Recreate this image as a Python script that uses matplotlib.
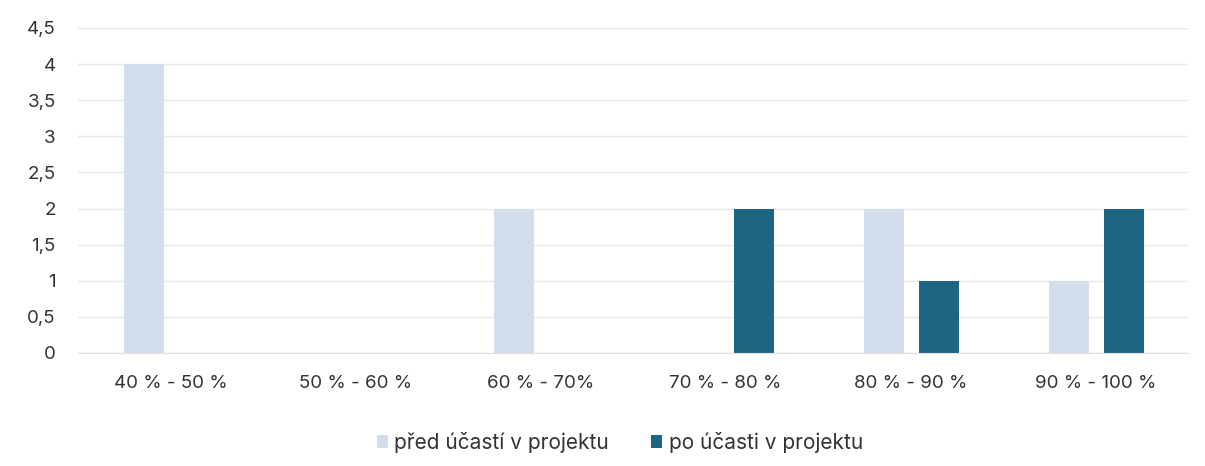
import matplotlib
matplotlib.use("Agg")
from matplotlib import pyplot as plt
import numpy as np

categories = ["40 % - 50 %", "50 % - 60 %", "60 % - 70%", "70 % - 80 %", "80 % - 90 %", "90 % - 100 %"]
pred = [4, 0, 2, 0, 2, 1]
po = [0, 0, 0, 2, 1, 2]
yticks = [0, 0.5, 1, 1.5, 2, 2.5, 3, 3.5, 4, 4.5]
ytick_labels = ["0", "0,5", "1", "1,5", "2", "2,5", "3", "3,5", "4", "4,5"]

plt.rcParams["font.family"] = ["Inter", "DejaVu Sans"]

fig = plt.figure(figsize=(12.05, 4.66), dpi=100)
ax = fig.add_axes([0.0647, 0.2425, 0.9213, 0.6975])

x = np.arange(len(categories))
w = 0.216
ax.bar(x - 0.145, pred, w, color="#D3DDEC", label="před účastí v projektu", zorder=2)
ax.bar(x + 0.155, po, w, color="#1E6584", label="po účasti v projektu", zorder=2)

ax.set_xlim(-0.5, len(categories) - 0.5)
ax.set_ylim(0, 4.5)
ax.set_yticks(yticks)
ax.set_yticklabels(ytick_labels, fontsize=13.5, color="#333333")
ax.set_xticks(x)
ax.set_xticklabels(categories, fontsize=13.5, color="#333333")
ax.tick_params(axis="x", length=0, pad=16)
ax.tick_params(axis="y", length=0, pad=16)
ax.grid(axis="y", color="#E8E8E8", linewidth=1, zorder=0)
for s in ["top", "right", "left"]:
    ax.spines[s].set_visible(False)
ax.spines["bottom"].set_color("#E0E0E0")

ax.legend(loc="upper center", bbox_to_anchor=(0.488, -0.185), ncol=2, frameon=False,
          fontsize=15, handlelength=0.55, handleheight=0.55, handletextpad=0.3,
          columnspacing=2.0, labelcolor="#333333")

fig.savefig("out.png", dpi=100, facecolor="white")
